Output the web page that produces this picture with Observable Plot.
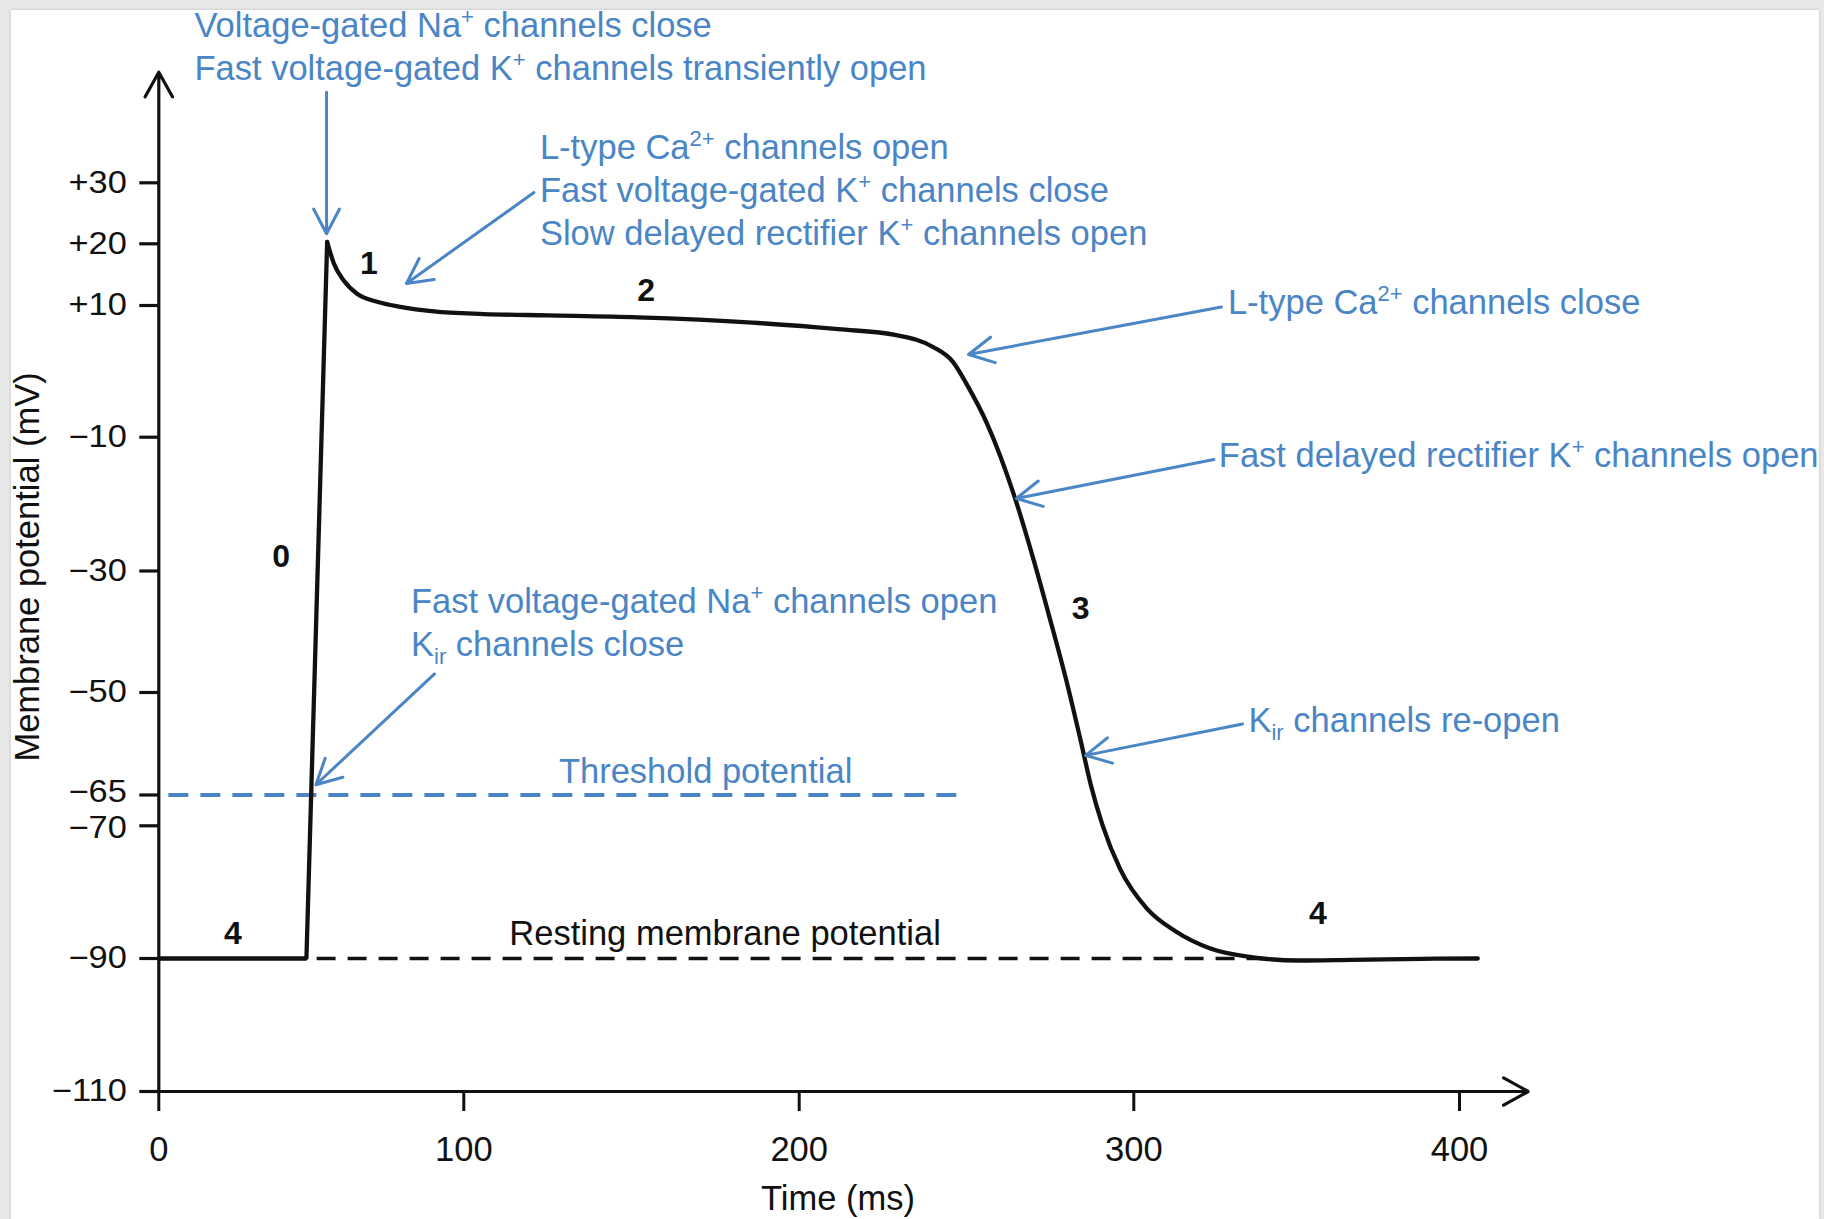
<!DOCTYPE html>
<html><head><meta charset="utf-8">
<script src="https://cdn.jsdelivr.net/npm/d3@7"></script>
<script src="https://cdn.jsdelivr.net/npm/@observablehq/plot@0.6"></script>
<style>
html,body{margin:0;padding:0;background:#e8e8e8;width:1824px;height:1219px;overflow:hidden;}
#card{position:absolute;left:11px;top:10px;width:1808px;height:1209px;background:#fff;box-shadow:0 0 3px rgba(0,0,0,0.18);}
#chart{position:absolute;left:0;top:0;width:1819px;height:1219px;overflow:hidden;}
</style></head><body><div id="card"></div><div id="chart"></div>
<script>
// ---- axis ticks ----
const xTicks = [0, 100, 200, 300, 400];
const yTicks = [30, 20, 10, -10, -30, -50, -65, -70, -90, -110];

// ---- action potential trace (ms, mV) ----
const upTime = [0, 48.4, 55.2];
const upMv   = [-90, -90, 20.3];
const repolTime = [55.2, 57.4, 60.7, 65.0, 71.6, 79.2, 90.2, 106, 125, 151.8, 186, 211.7, 229, 240, 246, 250, 256.2, 264.1, 270.1, 275.1, 280.1, 284.1, 287.2, 290.6, 296.0, 303.9, 312.8, 323.5, 337.8, 350.6, 366.8, 388.4, 405.6];
const repolMv   = [20.3, 16.8, 14.0, 11.9, 10.6, 9.8, 9.1, 8.7, 8.5, 8.2, 7.4, 6.4, 5.5, 3.7, 1.4, -1.9, -8.0, -18.5, -28.4, -38.2, -48.6, -57.0, -63.6, -69.8, -76.6, -82.4, -85.9, -88.5, -89.9, -90.3, -90.2, -90.05, -90.0];

// ---- reference levels ----
const levelName = ["Threshold potential", "Resting membrane potential"];
const levelMv = [-65, -90];
const levelFrom = [3.3, 51.9];
const levelTo = [247.1, 340];
const levelLabelTime = [172.1, 177.9];
const levelLabelMv = [-63.2, -88.0];

// ---- phase numbers ----
const phaseLabel = ["0", "1", "2", "3", "4", "4"];
const phaseTime = [40.1, 68.9, 154.4, 284.1, 24.3, 356.5];
const phaseMv = [-27.9, 16.8, 12.4, -36.2, -86.3, -83.3];

// ---- channel annotations ----
const noteText = [
  "Voltage-gated Na⁺ channels close",
  "Fast voltage-gated K⁺ channels transiently open",
  "L-type Ca²⁺ channels open",
  "Fast voltage-gated K⁺ channels close",
  "Slow delayed rectifier K⁺ channels open",
  "L-type Ca²⁺ channels close",
  "Fast delayed rectifier K⁺ channels open",
  "Kᵢᵣ channels re-open",
  "Fast voltage-gated Na⁺ channels open",
  "Kᵢᵣ channels close"
];
const noteTime = [11.7, 11.7, 122.7, 122.7, 122.7, 328.9, 326.1, 335.2, 82.7, 82.7];
const noteMv = [53.9, 46.9, 33.9, 26.8, 19.8, 8.7, -14.45, -55.8, -36.9, -44.0];

// ---- annotation arrows (tail -> head) ----
const arrowFromTime = [55.0, 120.9, 326.9, 324.6, 333.4, 90.4];
const arrowFromMv = [44.85, 28.4, 9.77, -13.33, -54.6, -46.95];
const arrowToTime = [55.0, 81.2, 250.6, 264.9, 285.6, 51.5];
const arrowToMv = [21.64, 13.57, 2.56, -19.16, -59.2, -63.5];

// ---- axis lines with arrowheads ----
const axisFromTime = [0, 0];
const axisFromMv = [-110, -110];
const axisToTime = [0, 421.1];
const axisToMv = [48.13, -110];

// ---- axis titles ----
const xTitle = "Time (ms)";
const yTitle = "Membrane potential (mV)";
const xTitlePos = [211.6, -126.2];
const yTitlePos = [-42.75, -29.4];

const BLUE = "#4a85c5";
const FONT = "'Liberation Sans', Arial, Helvetica, sans-serif";

const up = upTime.map((t, i) => ({t, v: upMv[i]}));
const repol = repolTime.map((t, i) => ({t, v: repolMv[i]}));
const levels = levelName.map((s, i) => ({s, v: levelMv[i], a: levelFrom[i], b: levelTo[i], lt: levelLabelTime[i], lv: levelLabelMv[i]}));
const phases = phaseLabel.map((s, i) => ({s, t: phaseTime[i], v: phaseMv[i]}));
const notes = noteText.map((s, i) => ({s, t: noteTime[i], v: noteMv[i]}));
const arrows = arrowFromTime.map((t, i) => ({t1: t, v1: arrowFromMv[i], t2: arrowToTime[i], v2: arrowToMv[i]}));
const axes = axisFromTime.map((t, i) => ({t1: t, v1: axisFromMv[i], t2: axisToTime[i], v2: axisToMv[i]}));

const fmtY = d => d > 0 ? "+" + d : d < 0 ? "\u2212" + (-d) : String(d);

const chart = Plot.plot({
  width: 1819,
  height: 1219,
  marginLeft: 158.3,
  marginBottom: 128,
  marginTop: 72,
  marginRight: 360,
  style: {fontFamily: FONT, fontSize: "34.5px", background: "transparent", color: "#111", overflow: "visible"},
  x: {type: "linear", domain: xTicks, range: [158.3, 463.3, 798.7, 1133.3, 1459]},
  y: {type: "linear", domain: yTicks.slice().reverse(), range: [1091, 958, 825.3, 794.5, 692, 570.5, 436.7, 305, 243.3, 182.3]},
  marks: [
    // reference levels
    Plot.ruleY(levels.slice(0, 1), {y: "v", x1: "a", x2: "b", stroke: BLUE, strokeWidth: 4, strokeDasharray: "20,12"}),
    Plot.ruleY(levels.slice(1), {y: "v", x1: "a", x2: "b", stroke: "#111", strokeWidth: 3.6, strokeDasharray: "19,12"}),
    Plot.text(levels.slice(0, 1), {x: "lt", y: "lv", text: "s", fill: BLUE, fontSize: 34.5, textAnchor: "middle", lineAnchor: "bottom"}),
    Plot.text(levels.slice(1), {x: "lt", y: "lv", text: "s", fill: "#111", fontSize: 34.5, textAnchor: "middle", lineAnchor: "bottom"}),
    // axes
    Plot.axisY({ticks: yTicks, tickFormat: fmtY, tickSize: 19, tickPadding: 13, fontSize: 31, strokeWidth: 3.2, stroke: "#111", fill: "#111", label: null, anchor: "left"}),
    Plot.axisX({ticks: xTicks, tickFormat: d => String(d), tickSize: 20, tickPadding: 25, fontSize: 34.5, strokeWidth: 3, stroke: "#111", fill: "#111", label: null, anchor: "bottom"}),
    Plot.arrow(axes, {x1: "t1", y1: "v1", x2: "t2", y2: "v2", stroke: "#111", strokeWidth: 3.2, headLength: 13.2, headAngle: 58}),
    Plot.text([xTitle], {x: () => xTitlePos[0], y: () => xTitlePos[1], text: d => d, fill: "#111", fontSize: 34.5, textAnchor: "middle"}),
    Plot.text([yTitle], {x: () => yTitlePos[0], y: () => yTitlePos[1], text: d => d, fill: "#111", fontSize: 34.5, textAnchor: "middle", rotate: -90}),
    // action potential
    Plot.line(up, {x: "t", y: "v", stroke: "#111", strokeWidth: 4.3, strokeLinejoin: "miter"}),
    Plot.line(repol, {x: "t", y: "v", stroke: "#111", strokeWidth: 4.3, curve: "monotone-x"}),
    // phase numbers
    Plot.text(phases, {x: "t", y: "v", text: "s", fill: "#111", fontSize: 32, fontWeight: "bold", textAnchor: "middle"}),
    // annotations
    Plot.arrow(arrows, {x1: "t1", y1: "v1", x2: "t2", y2: "v2", stroke: BLUE, strokeWidth: 3, headLength: 14, headAngle: 55}),
    Plot.text(notes, {x: "t", y: "v", text: "s", fill: BLUE, fontSize: 34.5, textAnchor: "start", lineAnchor: "bottom"})
  ]
});

// y tick labels: slightly widened glyphs like the reference; nudge the close pair apart
const yLabels = new Set(yTicks.map(fmtY));
chart.querySelectorAll("text").forEach(el => {
  const txt = el.textContent;
  if (!yLabels.has(txt)) return;
  const shift = txt === "\u221265" ? -2.5 : txt === "\u221270" ? 2.5 : 0;
  el.setAttribute("transform", (el.getAttribute("transform") || "") + ` translate(0,${shift}) scale(1.11,1)`);
});

// render superscripts / subscripts as tspans
const supMap = {"⁺": "+", "²": "2"};
const subMap = {"ᵢ": "i", "ᵣ": "r"};
chart.querySelectorAll("text").forEach(el => {
  const s = el.textContent;
  if (!/[⁺²ᵢᵣ]/.test(s)) return;
  const segs = [];
  for (const ch of s) {
    const kind = ch in supMap ? "sup" : ch in subMap ? "sub" : "n";
    const c = kind === "sup" ? supMap[ch] : kind === "sub" ? subMap[ch] : ch;
    if (segs.length && segs[segs.length - 1].kind === kind) segs[segs.length - 1].text += c;
    else segs.push({kind, text: c});
  }
  while (el.firstChild) el.removeChild(el.firstChild);
  let shift = 0;
  for (const seg of segs) {
    const ts = document.createElementNS("http://www.w3.org/2000/svg", "tspan");
    const target = seg.kind === "sup" ? -13 : seg.kind === "sub" ? 8 : 0;
    if (target !== shift) ts.setAttribute("dy", target - shift);
    shift = target;
    if (seg.kind !== "n") ts.setAttribute("font-size", "22");
    ts.textContent = seg.text;
    el.appendChild(ts);
  }
});

document.getElementById("chart").appendChild(chart);
</script>
</body></html>
